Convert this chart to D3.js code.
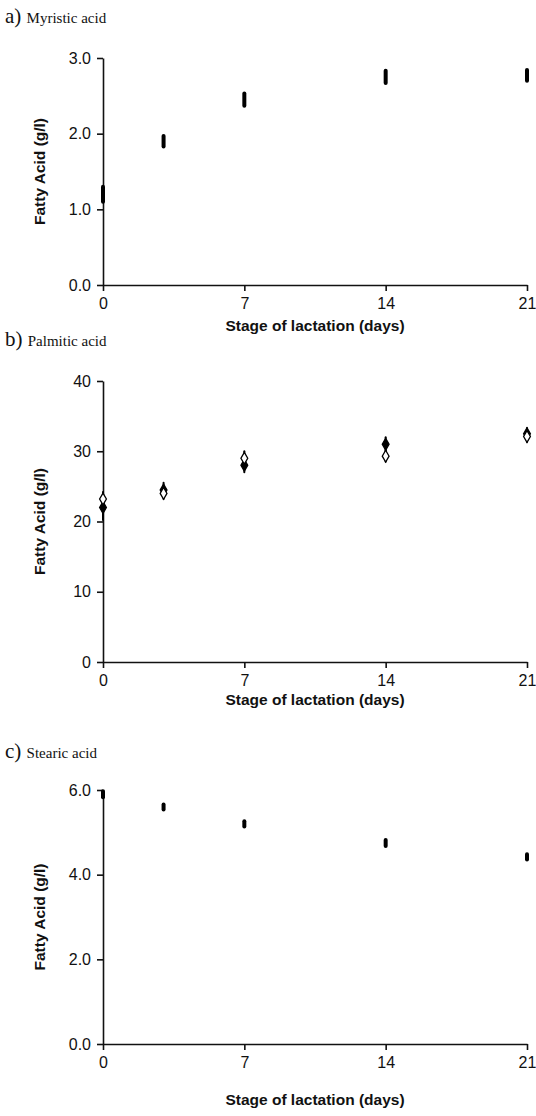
<!DOCTYPE html>
<html lang="en">
<head>
<meta charset="utf-8">
<title>Fatty acids over lactation</title>
<script src="https://d3js.org/d3.v7.min.js"></script>
<style>
  body { margin: 0; background: white; }
  .tick text { font-family: "Liberation Sans", Arial, sans-serif; font-size: 16px; fill: #111; }
  .axisTitle { font-family: "Liberation Sans", Arial, sans-serif; font-size: 15.5px; font-weight: bold; fill: #111; }
  .panelTitle { font-family: "Liberation Serif", "Times New Roman", serif; fill: #111; }
</style>
</head>
<body>
<div id="chart"></div>
<script>
  // days of lactation (shared by every panel)
  var days = [0, 3, 7, 14, 21];
  var xTicks = [0, 7, 14, 21];

  // a) myristic acid - mean and error (g/l)
  var myristicMean = [1.2, 1.9, 2.45, 2.75, 2.77];
  var myristicErr  = [0.10, 0.07, 0.08, 0.08, 0.07];
  var myristicTicks = [0, 1, 2, 3];

  // b) palmitic acid - two groups, filled and open diamonds
  var palmiticFilled = [22.0, 24.5, 28.0, 31.0, 32.5];
  var palmiticFilledErr = [1.8, 1.0, 1.0, 1.0, 0.8];
  var palmiticOpen = [23.2, 24.0, 29.0, 29.3, 32.1];
  var palmiticOpenErr = [1.0, 0.8, 1.0, 0.8, 0.8];
  var palmiticTicks = [0, 10, 20, 30, 40];

  // c) stearic acid
  var stearicMean = [5.9, 5.6, 5.2, 4.75, 4.42];
  var stearicErr  = [0.07, 0.06, 0.06, 0.07, 0.06];
  var stearicTicks = [0, 2, 4, 6];

  var svg = d3.select("#chart").append("svg")
    .attr("width", 536)
    .attr("height", 1116);

  function drawPanel(opt) {
    var x = d3.scaleLinear().domain([0, 21]).range([103, 527]);
    var y = d3.scaleLinear().domain(opt.yDomain).range([opt.bottom, opt.top]);
    var g = svg.append("g");

    // panel letter + name
    var t = g.append("text").attr("class", "panelTitle")
      .attr("x", 5).attr("y", opt.titleY);
    t.append("tspan").style("font-size", "21px").text(opt.letter + ") ");
    t.append("tspan").style("font-size", "15px").text(opt.name);

    var yAxis = d3.axisLeft(y).tickValues(opt.yTicks).tickSize(6).tickSizeOuter(0)
      .tickFormat(opt.yFormat).tickPadding(6);
    var xAxis = d3.axisBottom(x).tickValues(xTicks).tickSize(6).tickSizeOuter(0)
      .tickPadding(7);

    var ya = g.append("g").attr("transform", "translate(103,0)").call(yAxis);
    var xa = g.append("g").attr("transform", "translate(0," + opt.bottom + ")").call(xAxis);
    [ya, xa].forEach(function(a) {
      a.selectAll("path, line").attr("stroke", "#111").attr("stroke-width", 1.6);
    });

    g.append("text").attr("class", "axisTitle")
      .attr("text-anchor", "middle")
      .attr("transform", "translate(45," + ((opt.top + opt.bottom) / 2) + ") rotate(-90)")
      .text("Fatty Acid (g/l)");
    g.append("text").attr("class", "axisTitle")
      .attr("text-anchor", "middle")
      .attr("x", 315).attr("y", opt.xTitleY)
      .text("Stage of lactation (days)");

    opt.series.forEach(function(s) {
      // error bars
      g.selectAll(null).data(days).enter().append("line")
        .attr("x1", function(d) { return x(d); })
        .attr("x2", function(d) { return x(d); })
        .attr("y1", function(d, i) { return y(s.mean[i] - s.err[i]); })
        .attr("y2", function(d, i) { return y(s.mean[i] + s.err[i]); })
        .attr("stroke", "#000")
        .attr("stroke-width", s.barWidth)
        .attr("stroke-linecap", "round");
      if (s.symbol) {
        g.selectAll(null).data(days).enter().append("path")
          .attr("d", d3.symbol().type(d3.symbolDiamond).size(40))
          .attr("transform", function(d, i) {
            return "translate(" + x(d) + "," + y(s.mean[i]) + ")";
          })
          .attr("fill", s.fill)
          .attr("stroke", "#000")
          .attr("stroke-width", 1.3);
      }
    });
  }

  drawPanel({
    letter: "a", name: "Myristic acid", titleY: 23,
    top: 58, bottom: 285, xTitleY: 331,
    yDomain: [0, 3], yTicks: myristicTicks, yFormat: d3.format(".1f"),
    series: [{ mean: myristicMean, err: myristicErr, barWidth: 4 }]
  });

  drawPanel({
    letter: "b", name: "Palmitic acid", titleY: 346,
    top: 381, bottom: 662, xTitleY: 705,
    yDomain: [0, 40], yTicks: palmiticTicks, yFormat: d3.format("d"),
    series: [
      { mean: palmiticFilled, err: palmiticFilledErr, barWidth: 2, symbol: true, fill: "#000" },
      { mean: palmiticOpen, err: palmiticOpenErr, barWidth: 2, symbol: true, fill: "#fff" }
    ]
  });

  drawPanel({
    letter: "c", name: "Stearic acid", titleY: 758,
    top: 790, bottom: 1044, xTitleY: 1105,
    yDomain: [0, 6], yTicks: stearicTicks, yFormat: d3.format(".1f"),
    series: [{ mean: stearicMean, err: stearicErr, barWidth: 4 }]
  });
</script>
</body>
</html>
